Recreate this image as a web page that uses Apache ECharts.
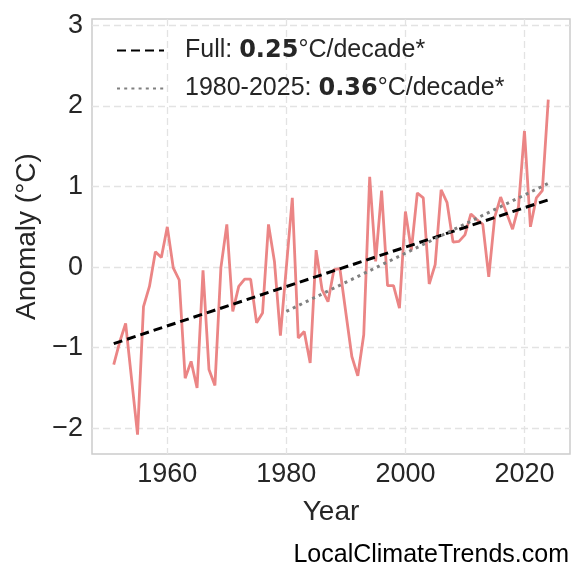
<!DOCTYPE html>
<html>
<head>
<meta charset="utf-8">
<script src="https://cdn.jsdelivr.net/npm/echarts@6/dist/echarts.min.js"></script>
<style>
html,body{margin:0;padding:0;background:#fff;}
#chart{width:585px;height:580px;}
</style>
</head>
<body>
<div id="chart"></div>
<script>
const years = [];
for (let y = 1951; y <= 2024; y++) years.push(y);
const anomalies = [
  -1.21, -0.93, -0.70, -1.39, -2.08, -0.49, -0.24, 0.19, 0.12, 0.50,
  -0.01, -0.16, -1.38, -1.17, -1.50, -0.04, -1.27, -1.47, -0.01, 0.53,
  -0.55, -0.24, -0.15, -0.15, -0.69, -0.57, 0.53, 0.07, -0.85, 0.00,
  0.86, -0.88, -0.80, -1.19, 0.21, -0.28, -0.43, -0.03, -0.02, -0.57,
  -1.11, -1.35, -0.84, 1.12, 0.07, 0.95, -0.23, -0.23, -0.51, 0.69,
  0.21, 0.92, 0.86, -0.21, 0.03, 0.96, 0.80, 0.31, 0.32, 0.40,
  0.66, 0.59, 0.53, -0.12, 0.62, 0.87, 0.67, 0.47, 0.75, 1.69,
  0.50, 0.86, 0.95, 2.08
];
const fullTrendYears = [1951, 2024];
const fullTrendValues = [-0.95, 0.835];
const recentTrendYears = [1980, 2024];
const recentTrendValues = [-0.55, 1.04];
const xTicks = [1960, 1980, 2000, 2020];
const yTicks = [-2, -1, 0, 1, 2, 3];
const fullLabel = 'Full: {b|0.25}°C/decade*';
const recentLabel = '1980-2025: {b|0.36}°C/decade*';

const chart = echarts.init(document.getElementById('chart'), null, {renderer: 'canvas'});
const font = '"Liberation Sans", Arial, Helvetica, sans-serif';
const textColor = '#262626';
const gridLine = {show: true, lineStyle: {color: '#e3e3e3', type: [7, 4], width: 1.3}};

chart.setOption({
  animation: false,
  backgroundColor: '#ffffff',
  grid: {left: 92, right: 15, top: 19, bottom: 126, show: true, borderColor: '#cccccc', borderWidth: 1.5, backgroundColor: 'transparent'},
  xAxis: {
    type: 'value', min: 1947.35, max: 2027.65,
    name: 'Year', nameLocation: 'middle', nameGap: 44,
    nameTextStyle: {fontFamily: font, fontSize: 28, color: textColor},
    axisLine: {show: false},
    axisTick: {show: false, customValues: xTicks},
    axisLabel: {customValues: xTicks, fontFamily: font, fontSize: 27, color: textColor, margin: 7,
      formatter: v => String(v)},
    splitLine: gridLine
  },
  yAxis: {
    type: 'value', min: -2.32, max: 3.08,
    name: 'Anomaly (°C)', nameLocation: 'middle', nameGap: 48, nameRotate: 90,
    nameTextStyle: {fontFamily: font, fontSize: 28, color: textColor},
    axisLine: {show: false},
    axisTick: {show: false, customValues: yTicks},
    axisLabel: {customValues: yTicks, fontFamily: font, fontSize: 27, color: textColor, margin: 9,
      formatter: v => (v < 0 ? '\u2212' + Math.abs(v) : String(v))},
    splitLine: gridLine
  },
  legend: {
    orient: 'vertical', left: 111, top: 33, itemWidth: 47, itemHeight: 14, itemGap: 13,
    data: [fullLabel, recentLabel],
    itemStyle: {opacity: 0},
    textStyle: {fontFamily: font, fontSize: 25, color: textColor, padding: [0, 0, 0, 16],
      rich: {b: {fontFamily: '"DejaVu Sans", sans-serif', fontWeight: 'bold', fontSize: 24, color: textColor}}}
  },
  series: [
    {
      type: 'line', name: 'anomaly', showSymbol: false, symbol: 'none',
      data: years.map((y, i) => [y, anomalies[i]]),
      lineStyle: {color: '#eb8585', width: 2.8}, z: 2
    },
    {
      type: 'line', name: fullLabel, symbol: 'none',
      data: fullTrendYears.map((y, i) => [y, fullTrendValues[i]]),
      lineStyle: {color: '#000000', width: 3, type: [9, 5]}, itemStyle: {color: '#000000'}, z: 3
    },
    {
      type: 'line', name: recentLabel, symbol: 'none',
      data: recentTrendYears.map((y, i) => [y, recentTrendValues[i]]),
      lineStyle: {color: '#808080', width: 3, type: [3, 4.2]}, itemStyle: {color: '#808080'}, z: 3
    }
  ],
  graphic: [{
    type: 'text', right: 16, bottom: 12,
    style: {text: 'LocalClimateTrends.com', fontFamily: font, fontSize: 25, fill: '#000000'}
  }]
});
</script>
</body>
</html>
